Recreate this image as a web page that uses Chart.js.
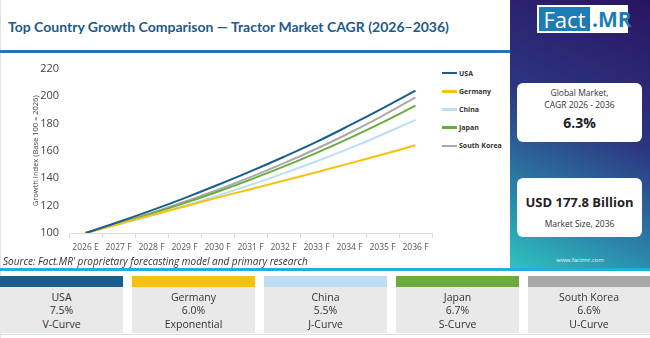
<!DOCTYPE html>
<html>
<head>
<meta charset="utf-8">
<script src="https://cdn.jsdelivr.net/npm/chart.js@4.4.1/dist/chart.umd.min.js"></script>
<style>
  body { margin: 0; width: 650px; height: 338px; overflow: hidden; background: #fff; font-family: "Open Sans", sans-serif; position: relative; }
  #edge { position: absolute; left: 0; top: 0; width: 1px; height: 338px; background: #e2e2e2; }
  #title { position: absolute; left: 8px; top: 18px; font-family: Lato, sans-serif; font-size: 14px; font-weight: 700; color: #1b5a8c; white-space: nowrap; }
  #titleLine { position: absolute; left: 0; top: 50px; width: 510px; height: 3px; background: #2a72b2; }
  #chartBox { position: absolute; left: 0; top: 52px; width: 440px; height: 205px; }
  #legend { position: absolute; left: 442px; top: 64px; }
  .lg { display: flex; align-items: center; height: 18.2px; font-size: 7px; font-weight: 700; color: #333; }
  .lg span.sw { width: 15px; height: 2.5px; margin-right: 2px; }
  #panel { position: absolute; left: 510px; top: 0; width: 140px; height: 268px; background: linear-gradient(205deg, #2a1462 0%, #2c3580 45%, #2b86ab 78%, #2ec3bf 100%); }
  #logo { position: absolute; left: 27px; top: 5px; width: 91px; height: 28px; background: #fff; }
  #logo .f { position: absolute; left: 2px; top: 2px; width: 51px; height: 24px; background: #1b7cb6; color: #fff; font-size: 22px; line-height: 24px; text-align: center; font-family: "Open Sans", sans-serif; }
  #logo .m { position: absolute; left: 55px; top: 2px; height: 24px; color: #1b7cb6; font-size: 21px; line-height: 24px; font-weight: 700; font-family: "Open Sans", sans-serif; }
  .card { position: absolute; left: 7px; width: 125px; background: #fff; border-radius: 6px; text-align: center; color: #333; }
  #c1 { top: 83px; height: 59px; }
  #c2 { top: 178px; height: 59px; }
  .small { font-size: 8.5px; line-height: 12px; }
  .big { font-size: 14px; font-weight: 700; color: #222; }
  #usd { font-size: 13px; }
  #www { position: absolute; left: 0; width: 140px; top: 256px; text-align: center; font-size: 6px; color: #e8f4ff; }
  #source { position: absolute; left: 3px; top: 254px; font-size: 10px; font-style: italic; color: #333; white-space: nowrap; }
  #cyan { position: absolute; left: 0; top: 268px; width: 650px; height: 3px; background: #22aee0; }
  .bc { position: absolute; top: 276px; width: 123px; height: 57px; background: #e9e9e9; text-align: center; font-size: 10.5px; color: #333; }
  .bc .hd { height: 11px; }
  .bc div.t { line-height: 13.3px; }
  .bc .body { padding-top: 4px; }
  #outer { position: absolute; left: 0; top: 334px; width: 650px; height: 1px; background: #ddd; }
</style>
</head>
<body>
<div id="edge"></div>
<div id="title">Top Country Growth Comparison — Tractor Market CAGR (2026–2036)</div>
<div id="titleLine"></div>
<div id="chartBox"><canvas id="chart"></canvas></div>
<div id="legend"></div>

<div id="panel">
  <div id="logo"><div class="f">Fact</div><div class="m">.MR</div></div>
  <div class="card" id="c1">
    <div class="small" style="padding-top:4px">Global Market,<br>CAGR 2026 - 2036</div>
    <div class="big" style="margin-top:2px">6.3%</div>
  </div>
  <div class="card" id="c2">
    <div class="big" id="usd" style="padding-top:15px">USD 177.8 Billion</div>
    <div class="small" style="margin-top:7px">Market Size, 2036</div>
  </div>
  <div id="www">www.factmr.com</div>
</div>

<div id="source">Source: Fact.MR' proprietary forecasting model and primary research</div>
<div id="cyan"></div>
<div id="cards"></div>
<div id="outer"></div>

<script>
const years = ['2026 E', '2027 F', '2028 F', '2029 F', '2030 F', '2031 F', '2032 F', '2033 F', '2034 F', '2035 F', '2036 F'];
const countries = ['USA', 'Germany', 'China', 'Japan', 'South Korea'];
const colors = ['#1a5e8f', '#f6c20f', '#bcdff2', '#6cab40', '#a9a9a9'];

// growth index values, base 100 = 2026
const usa = [100, 108, 116.5, 125.5, 135, 145, 155.5, 166.5, 178.5, 191, 204];
const germany = [100, 106.5, 113, 119.4, 125.8, 132, 138.2, 144.4, 150.8, 157.3, 164];
const china = [100, 106.2, 112.8, 119.8, 127.2, 135.1, 143.5, 152.4, 161.8, 171.9, 182.6];
const japan = [100, 106.8, 114.1, 121.8, 130.1, 139, 148.4, 158.5, 169.3, 180.8, 193];
const southKorea = [100, 107.1, 114.7, 122.8, 131.5, 140.8, 150.8, 161.5, 173, 185.5, 199];

const cagr = ['7.5%', '6.0%', '5.5%', '6.7%', '6.6%'];
const curveType = ['V-Curve', 'Exponential', 'J-Curve', 'S-Curve', 'U-Curve'];

const series = [usa, germany, china, japan, southKorea];

// legend
const legend = document.getElementById('legend');
countries.forEach((c, i) => {
  const row = document.createElement('div');
  row.className = 'lg';
  row.innerHTML = `<span class="sw" style="background:${colors[i]}"></span>${c}`;
  legend.appendChild(row);
});

// bottom cards
const cardX = [0, 132, 264, 396, 528];
const cards = document.getElementById('cards');
countries.forEach((c, i) => {
  const d = document.createElement('div');
  d.className = 'bc';
  d.style.left = cardX[i] + 'px';
  d.style.width = (i === 4 ? 122 : 123) + 'px';
  d.innerHTML = `<div class="hd" style="background:${colors[i]}"></div>
    <div class="body"><div class="t">${c}</div><div class="t">${cagr[i]}</div><div class="t">${curveType[i]}</div></div>`;
  cards.appendChild(d);
});

const ctx = document.getElementById('chart').getContext('2d');
new Chart(ctx, {
  type: 'line',
  data: {
    labels: years,
    datasets: countries.map((c, i) => ({
      label: c,
      data: series[i],
      borderColor: colors[i],
      backgroundColor: colors[i],
      borderWidth: 2,
      pointRadius: 0,
      tension: 0.4,
      fill: false
    }))
  },
  options: {
    responsive: true,
    maintainAspectRatio: false,
    animation: false,
    layout: { padding: { top: 10, right: 8, left: 0, bottom: 0 } },
    plugins: {
      legend: { display: false },
      tooltip: { enabled: false }
    },
    scales: {
      x: {
        offset: true,
        grid: { offset: true, drawOnChartArea: false, color: '#dcdcdc', tickLength: 5 },
        border: { color: '#dcdcdc' },
        ticks: { color: '#555', font: { family: 'Open Sans', size: 8.5 }, padding: 4, maxRotation: 0, autoSkip: false },
        afterFit: s => { s.height = 24; }
      },
      y: {
        min: 100,
        max: 220,
        ticks: { stepSize: 20, color: '#444', font: { family: 'Open Sans', size: 11 }, padding: 10 },
        grid: { display: false, drawTicks: false },
        border: { display: false },
        title: {
          display: true,
          text: 'Growth Index (Base 100 = 2026)',
          color: '#444',
          font: { family: 'Open Sans', size: 7.5 },
          padding: { top: 31, bottom: 0 }
        },
        afterFit: s => { s.width = 69; }
      }
    }
  }
});
</script>
</body>
</html>
